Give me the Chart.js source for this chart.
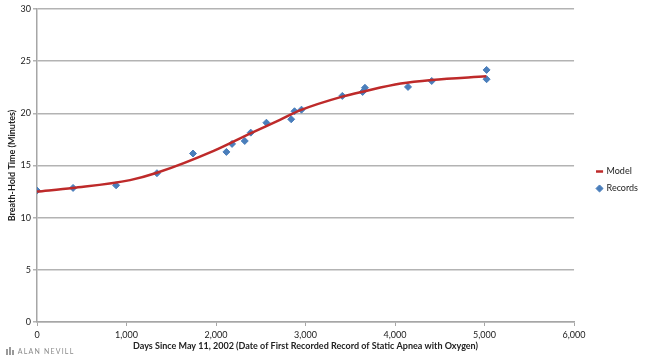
<!DOCTYPE html>
<html>
    <head>
        <title>Breath-Hold Time</title>
        <script src="https://cdn.jsdelivr.net/npm/chart.js@4.4.1/dist/chart.umd.min.js"></script>
        <style>
            body { margin: 0; background: #fff; }
            #wrap { position: relative; width: 650px; height: 360px; }
            #mark { position: absolute; left: 6px; top: 347px; font-family: Lato, sans-serif;
                    font-size: 7px; letter-spacing: 1.2px; color: #8a8a8a; }
            #mark span { display: inline-block; width: 2px; background: #9a9a9a; margin-right: 1px; vertical-align: bottom; }
        </style>
    </head>
    <body>
        <div id="wrap">
            <canvas id="myChart" width="650" height="360"></canvas>
            <div id="mark"><span style="height:6px"></span><span style="height:8px"></span><span style="height:5px"></span>&nbsp;ALAN NEVILL</div>
        </div>

        <script>
            // model curve
            const modelDays = [0, 400, 1040, 1340, 1974, 2366, 2720, 2944, 3411, 3653, 4064, 4410, 5020];
            const modelMinutes = [12.5, 12.85, 13.6, 14.3, 16.4, 18.0, 19.4, 20.3, 21.6, 22.1, 22.85, 23.2, 23.55];

            // record points
            const recordDays = [0, 403, 884, 1340, 1743, 2116, 2179, 2321, 2388, 2563, 2840, 2877, 2955, 3411, 3638, 3664, 4145, 4410, 5023, 5023];
            const recordMinutes = [12.6, 12.85, 13.1, 14.26, 16.15, 16.3, 17.07, 17.35, 18.15, 19.1, 19.43, 20.2, 20.35, 21.67, 22.05, 22.45, 22.53, 23.1, 24.16, 23.27];

            const xTicks = [0, 1000, 2000, 3000, 4000, 5000, 6000];
            const yTicks = [0, 5, 10, 15, 20, 25, 30];

            const toPoints = (xs, ys) => xs.map((x, i) => ({ x: x, y: ys[i] }));

            const font = { family: 'Lato, "Liberation Sans", sans-serif', size: 9 };

            // push the legend a bit away from the plot, like the excel one
            const legendGap = {
                id: 'legendGap',
                afterLayout(chart) {
                    if (chart.legend) {
                        chart.legend.left += 15;
                        chart.legend.right += 15;
                    }
                }
            };

            const ctx = document.getElementById('myChart');
            const myChart = new Chart(ctx, {
                type: 'scatter',
                plugins: [legendGap],
                data: {
                    datasets: [{
                        label: 'Model',
                        data: toPoints(modelDays, modelMinutes),
                        showLine: true,
                        borderColor: '#be2a2a',
                        backgroundColor: '#be2a2a',
                        borderWidth: 2.5,
                        pointRadius: 0,
                        pointStyle: 'line',
                        cubicInterpolationMode: 'monotone'
                    }, {
                        label: 'Records',
                        data: toPoints(recordDays, recordMinutes),
                        showLine: false,
                        backgroundColor: '#4a7ebb',
                        borderColor: '#4a7ebb',
                        pointStyle: 'rectRot',
                        pointRadius: 3.5
                    }]
                },
                options: {
                    responsive: false,
                    animation: false,
                    layout: { padding: { top: 9, right: 17, left: 7, bottom: 9 } },
                    plugins: {
                        tooltip: { enabled: false },
                        legend: {
                            position: 'right',
                            labels: {
                                usePointStyle: true,
                                boxWidth: 5,
                                boxHeight: 5,
                                padding: 8,
                                color: '#222',
                                font: font
                            }
                        }
                    },
                    scales: {
                        x: {
                            type: 'linear',
                            min: 0,
                            max: 6000,
                            afterBuildTicks: (s) => { s.ticks = xTicks.map(v => ({ value: v })); },
                            afterFit: (s) => { s.height = 29; },
                            ticks: {
                                color: '#222',
                                font: font,
                                padding: 4,
                                callback: (v) => v.toLocaleString('en-US')
                            },
                            grid: { drawOnChartArea: false, color: '#a6a6a6', tickLength: 4, lineWidth: 1 },
                            border: { color: '#a6a6a6', width: 1.5 },
                            title: {
                                display: true,
                                text: 'Days Since May 11, 2002 (Date of First Recorded Record of Static Apnea with Oxygen)',
                                color: '#222',
                                font: { family: font.family, size: 9, weight: 'bold' },
                                padding: { top: 1, bottom: 0 }
                            }
                        },
                        y: {
                            min: 0,
                            max: 30,
                            afterBuildTicks: (s) => { s.ticks = yTicks.map(v => ({ value: v })); },
                            afterFit: (s) => { s.width = 30; },
                            ticks: { color: '#222', font: font, padding: 2 },
                            grid: { color: '#b3b3b3', lineWidth: 1.5, tickLength: 4 },
                            border: { color: '#a6a6a6', width: 1.5 },
                            title: {
                                display: true,
                                text: 'Breath-Hold Time (Minutes)',
                                color: '#222',
                                font: { family: font.family, size: 9, weight: 'bold' },
                                padding: { top: 0, bottom: 2 }
                            }
                        }
                    }
                }
            });
        </script>
    </body>
</html>
